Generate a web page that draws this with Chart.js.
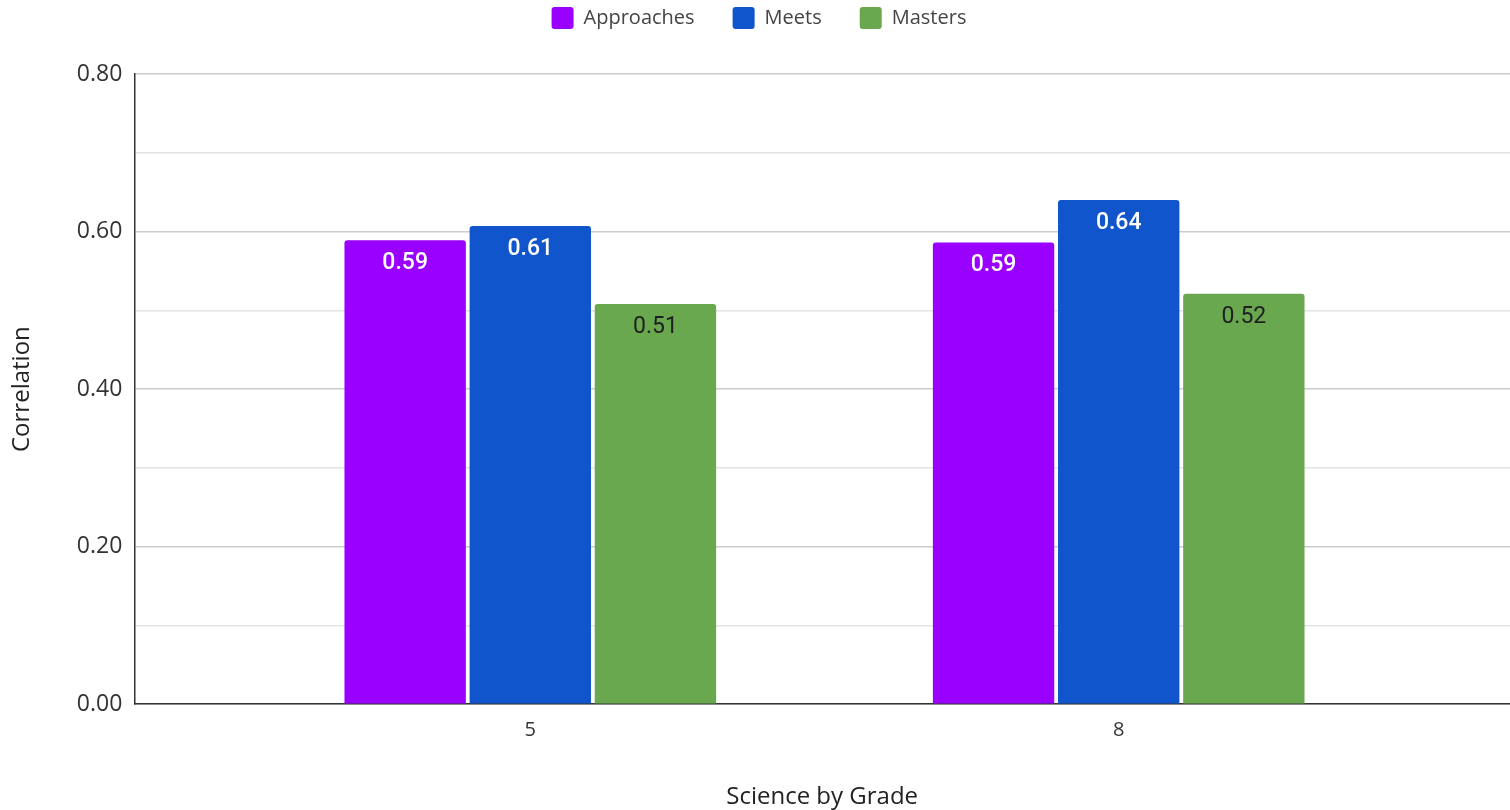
<!DOCTYPE html>
<html>
<head>
<meta charset="utf-8">
<script src="https://cdn.jsdelivr.net/npm/chart.js@4/dist/chart.umd.min.js"></script>
<style>
  html, body { margin: 0; padding: 0; background: #ffffff; }
  #wrap { width: 1510px; height: 810px; position: relative; }
</style>
</head>
<body>
<div id="wrap"><canvas id="chart"></canvas></div>
<script>
// Correlation by performance level, science grades 5 and 8
const grades = ['5', '8'];
const approaches = [0.589, 0.586];
const meets = [0.607, 0.640];
const masters = [0.508, 0.521];
const yTicks = [0, 0.2, 0.4, 0.6, 0.8];

const seriesNames = ['Approaches', 'Meets', 'Masters'];
const seriesColors = ['#9900ff', '#1155cc', '#6aa84f'];
const labelColors = ['#ffffff', '#ffffff', '#1f1f1f'];
const labelWeights = ['500', '500', '400'];

const axisFont = '"Open Sans", "Noto Sans", sans-serif';

function toPoints(values) {
  return values.map((v, i) => ({ x: i, y: v }));
}

// Value labels drawn just inside the top of each bar
const barValueLabels = {
  id: 'barValueLabels',
  afterDatasetsDraw(chart) {
    const ctx = chart.ctx;
    ctx.save();
    ctx.textAlign = 'center';
    ctx.textBaseline = 'middle';
    chart.data.datasets.forEach((ds, di) => {
      const meta = chart.getDatasetMeta(di);
      if (meta.hidden) return;
      ctx.fillStyle = labelColors[di];
      ctx.font = labelWeights[di] + ' 23px Roboto, "Noto Sans", sans-serif';
      meta.data.forEach((bar, i) => {
        const v = ds.data[i].y;
        ctx.fillText(v.toFixed(2), bar.x, bar.y + 23);
      });
    });
    ctx.restore();
  }
};

// Extra room between the legend row and the plot area
const legendGap = {
  id: 'legendGap',
  beforeInit(chart) {
    const fit = chart.legend.fit;
    chart.legend.fit = function () {
      fit.call(this);
      this.height += 35;
    };
  }
};

const data = {
  datasets: [approaches, meets, masters].map((vals, k) => ({
    label: seriesNames[k],
    data: toPoints(vals),
    backgroundColor: seriesColors[k],
    borderRadius: { topLeft: 3, topRight: 3, bottomLeft: 0, bottomRight: 0 },
    borderSkipped: 'bottom',
    categoryPercentage: 0.638,
    barPercentage: 0.97
  }))
};

new Chart(document.getElementById('chart'), {
  type: 'bar',
  data: data,
  plugins: [barValueLabels, legendGap],
  options: {
    responsive: true,
    maintainAspectRatio: false,
    animation: false,
    layout: { padding: { top: -31, left: 8, right: 0, bottom: -2 } },
    plugins: {
      tooltip: { enabled: false },
      legend: {
        position: 'top',
        labels: {
          boxWidth: 22,
          boxHeight: 22,
          useBorderRadius: true,
          borderRadius: 3,
          padding: 38,
          color: '#444444',
          font: { family: axisFont, size: 20 }
        }
      }
    },
    scales: {
      x: {
        type: 'linear',
        min: -0.673,
        max: 1.665,
        offset: false,
        afterBuildTicks(scale) {
          scale.ticks = grades.map((g, i) => ({ value: i }));
        },
        ticks: {
          autoSkip: false,
          maxRotation: 0,
          padding: 14,
          color: '#333333',
          font: { family: axisFont, size: 20 },
          callback: (value) => grades[value]
        },
        grid: { display: false, drawTicks: false },
        border: { display: true, color: '#333333', width: 1.5 },
        title: {
          display: true,
          text: 'Science by Grade',
          color: '#222222',
          font: { family: axisFont, size: 24 },
          padding: { top: 27, bottom: 0 }
        }
      },
      y: {
        min: 0,
        max: 0.8,
        ticks: {
          stepSize: 0.1,
          padding: 12,
          color: '#333333',
          font: { family: axisFont, size: 23 },
          callback: (value) => {
            const hit = yTicks.find(t => Math.abs(t - value) < 1e-6);
            return hit === undefined ? '' : hit.toFixed(2);
          }
        },
        grid: {
          drawTicks: false,
          lineWidth: 1.5,
          color: (ctx) => {
            const v = ctx.tick ? ctx.tick.value : 0;
            return yTicks.some(t => Math.abs(t - v) < 1e-6) ? '#cccccc' : '#e3e3e3';
          }
        },
        border: { display: true, color: '#333333', width: 1.5 },
        title: {
          display: true,
          text: 'Correlation',
          color: '#222222',
          font: { family: axisFont, size: 24 },
          padding: { top: 0, bottom: 28 }
        }
      }
    }
  }
});
</script>
</body>
</html>
